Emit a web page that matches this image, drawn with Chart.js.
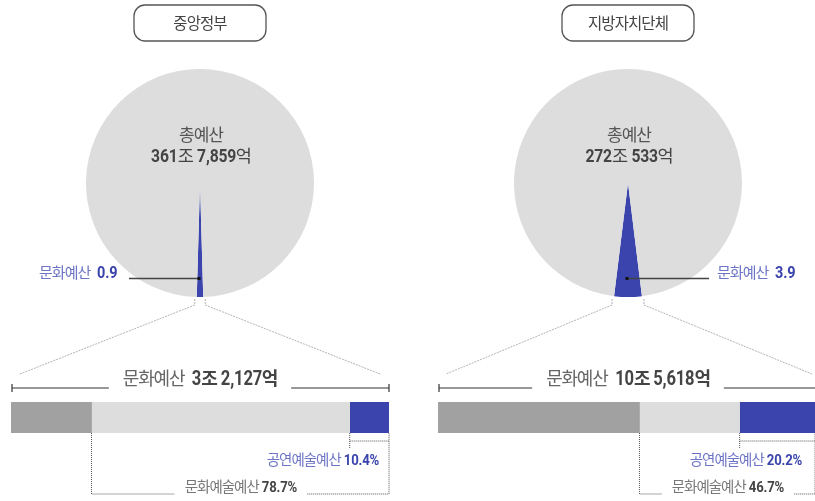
<!DOCTYPE html>
<html lang="ko">
<head>
<meta charset="utf-8">
<title>중앙정부 / 지방자치단체 문화예산</title>
<script src="https://cdn.jsdelivr.net/npm/chart.js@4.4.1/dist/chart.umd.min.js"></script>
<style>
    html, body {
        margin: 0;
        padding: 0;
        background: #fff;
        overflow: hidden;
    }
    #stage {
        position: relative;
        width: 815px;
        height: 501px;
        overflow: hidden;
        font-family: "Noto Sans CJK KR", "Noto Sans", sans-serif;
    }
    #stage canvas {
        position: absolute;
    }
    #overlay {
        position: absolute;
        left: 0;
        top: 0;
        pointer-events: none;
    }
    .txt {
        position: absolute;
        white-space: nowrap;
        transform: translate(-50%, -50%);
        line-height: 1;
    }
    .num {
        font-family: "Roboto", "Noto Sans CJK KR", sans-serif;
        font-weight: bold;
        letter-spacing: -0.2px;
    }
    .unit {
        font-weight: normal;
        font-family: "Noto Sans CJK KR", sans-serif;
    }
</style>
</head>
<body>
<div id="stage">
    <canvas id="pieCentral" width="228" height="228" style="left:86px; top:69px;"></canvas>
    <canvas id="pieLocal" width="228" height="228" style="left:514px; top:69px;"></canvas>
    <canvas id="barCentral" width="378" height="31" style="left:11px; top:402px;"></canvas>
    <canvas id="barLocal" width="378" height="31" style="left:438px; top:402px;"></canvas>
    <svg id="overlay" width="815" height="501"></svg>
</div>

<script>
/* ===== DATA ===== */
const groupNames = ['중앙정부', '지방자치단체'];
const totalBudgetNums = [['361', '7,859'], ['272', '533']];   // 조, 억
const cultureSharePct = [0.9, 3.9];                            // 총예산 중 문화예산 비중
const cultureBudgetNums = [['3', '2,127'], ['10', '5,618']];   // 조, 억
const cultureArtsPct = [78.7, 46.7];                           // 문화예산 중 문화예술예산
const performingArtsPct = [10.4, 20.2];                        // 문화예산 중 공연예술예산

/* ===== COLORS ===== */
const BLUE = '#3a44ac';
const BLUE_TEXT = '#6d74c6';
const PIE_GRAY = '#dcdddc';
const DARK_GRAY = '#a0a1a0';
const LIGHT_GRAY = '#dcdddc';

const stage = document.getElementById('stage');
const svg = document.getElementById('overlay');

/* ===== HELPERS ===== */

// squeeze the bold numbers horizontally (the original uses a condensed face)
function condense(el, s) {
    el.querySelectorAll('.num').forEach(span => {
        span.style.display = 'inline-block';
        const w = span.getBoundingClientRect().width;
        span.style.transformOrigin = 'left center';
        span.style.transform = 'scaleX(' + s + ')';
        span.style.marginRight = (-w * (1 - s)) + 'px';
    });
}

function num(value, size, color) {
    return '<span class="num" style="font-size:' + size + 'px;' + (color ? 'color:' + color + ';' : '') + '">' + value + '</span>';
}

function addText(x, y, html, style) {
    const el = document.createElement('div');
    el.className = 'txt';
    el.style.left = x + 'px';
    el.style.top = y + 'px';
    el.style.cssText += style || '';
    el.innerHTML = html;
    stage.appendChild(el);
    condense(el, 0.85);
    return el;
}

function addPath(points, stroke, width, dash) {
    const p = document.createElementNS('http://www.w3.org/2000/svg', 'polyline');
    p.setAttribute('points', points.map(pt => pt.join(',')).join(' '));
    p.setAttribute('fill', 'none');
    p.setAttribute('stroke', stroke);
    p.setAttribute('stroke-width', width);
    if (dash) p.setAttribute('stroke-dasharray', dash);
    svg.appendChild(p);
}

function addRect(x, y, w, h, attrs) {
    const r = document.createElementNS('http://www.w3.org/2000/svg', 'rect');
    r.setAttribute('x', x);
    r.setAttribute('y', y);
    r.setAttribute('width', w);
    r.setAttribute('height', h);
    Object.keys(attrs).forEach(k => r.setAttribute(k, attrs[k]));
    svg.appendChild(r);
}

/* ===== CHARTS ===== */

function makePie(canvasId, share) {
    const ctx = document.getElementById(canvasId).getContext('2d');
    return new Chart(ctx, {
        type: 'pie',
        data: {
            labels: ['문화예산', '기타'],
            datasets: [{
                data: [share, 100 - share],
                backgroundColor: [BLUE, PIE_GRAY],
                borderWidth: 0
            }]
        },
        options: {
            responsive: false,
            animation: false,
            // center the culture slice at the bottom of the pie
            rotation: 180 - share * 3.6 / 2,
            plugins: {
                legend: { display: false },
                tooltip: { enabled: false }
            },
            layout: { padding: 0 }
        }
    });
}

function makeBar(canvasId, idx) {
    const ctx = document.getElementById(canvasId).getContext('2d');
    const others = +(100 - cultureArtsPct[idx]).toFixed(1);
    const artsOnly = +(cultureArtsPct[idx] - performingArtsPct[idx]).toFixed(1);
    const segs = [
        { label: '기타', value: others, color: DARK_GRAY },
        { label: '문화예술예산(공연 제외)', value: artsOnly, color: LIGHT_GRAY },
        { label: '공연예술예산', value: performingArtsPct[idx], color: BLUE }
    ];
    return new Chart(ctx, {
        type: 'bar',
        data: {
            labels: [groupNames[idx]],
            datasets: segs.map(s => ({
                label: s.label,
                data: [s.value],
                backgroundColor: s.color,
                borderWidth: 0,
                barPercentage: 1,
                categoryPercentage: 1
            }))
        },
        options: {
            indexAxis: 'y',
            responsive: false,
            animation: false,
            layout: { padding: 0 },
            plugins: {
                legend: { display: false },
                tooltip: { enabled: false }
            },
            scales: {
                x: { stacked: true, min: 0, max: 100, display: false },
                y: { stacked: true, display: false }
            }
        }
    });
}

/* ===== ANNOTATIONS ===== */

function drawGroup(idx, pieChart, barChart, cfg) {
    const pieCanvas = pieChart.canvas;
    const px = pieCanvas.offsetLeft, py = pieCanvas.offsetTop;
    const arc = pieChart.getDatasetMeta(0).data[0];
    const cx = px + arc.x, cy = py + arc.y, r = arc.outerRadius;

    // title box
    addRect(cx - 66, 5, 132, 36, { rx: 11, ry: 11, fill: '#fff', stroke: '#555', 'stroke-width': 1.3 });
    addText(cx, 23, groupNames[idx], 'font-size:15.5px; color:#444; letter-spacing:-0.9px;');

    // pie center text
    const t = totalBudgetNums[idx];
    addText(cx + 1, 133, '총예산', 'font-size:17px; color:#555; letter-spacing:-1px;');
    addText(cx + 1, 156,
        num(t[0], 18.5) + '<span class="unit">조</span> ' + num(t[1], 18.5) + '<span class="unit">억</span>',
        'font-size:17.5px; color:#444; letter-spacing:-1px;');

    // leader line to culture slice
    const dotX = cx - 1, dotY = 278.5;
    addPath([[cfg.leaderEnd, dotY], [dotX, dotY]], '#444', 1.5);
    addRect(dotX - 1.5, dotY - 1.5, 3, 3, { fill: '#111' });
    addText(cfg.labelX, 272,
        '<span style="color:' + BLUE_TEXT + '">문화예산</span>&nbsp;&nbsp;' + num(cultureSharePct[idx], 17, BLUE),
        'font-size:15px; letter-spacing:-1px;');

    // zoom connectors from slice to bar
    const half = (cultureSharePct[idx] * 3.6 / 2) * Math.PI / 180;
    const bottom = cy + r;
    const lx = cx - Math.sin(half) * r - 2, rx = cx + Math.sin(half) * r + 2;
    addPath([[lx, bottom + 2], [lx, bottom + 8], [cfg.zoomLeft, 374]], '#aaa', 0.9, '2,1');
    addPath([[rx, bottom + 2], [rx, bottom + 8], [cfg.zoomRight, 374]], '#aaa', 0.9, '2,1');

    // bar geometry from the chart scale
    const bx = barChart.canvas.offsetLeft, by = barChart.canvas.offsetTop;
    const xs = barChart.scales.x;
    const barLeft = bx + xs.getPixelForValue(0);
    const barRight = Math.min(bx + xs.getPixelForValue(100), 815);
    const artsStart = bx + xs.getPixelForValue(100 - cultureArtsPct[idx]);
    const perfStart = bx + xs.getPixelForValue(100 - performingArtsPct[idx]);
    const barBottom = by + barChart.chartArea.bottom;

    // culture budget caption with bracket
    const c = cultureBudgetNums[idx];
    const capEl = addText(cx, 378,
        '<span style="color:#666">문화예산</span>&nbsp;&nbsp;' +
        num(c[0], 19.5) + '<span style="font-weight:bold">조</span> ' +
        num(c[1], 19.5) + '<span style="font-weight:bold">억</span>',
        'font-size:18px; color:#444; letter-spacing:-1.2px;');
    const capW = capEl.getBoundingClientRect().width;
    const gap = 14;
    addPath([[barLeft + 1, 388], [cx - capW / 2 - gap, 388]], '#333', 1.2);
    addPath([[cx + capW / 2 + gap, 388], [barRight, 388]], '#333', 1.2);
    addPath([[barLeft + 1, 384], [barLeft + 1, 392]], '#333', 1.2);
    if (barRight < 814) addPath([[barRight, 384], [barRight, 392]], '#333', 1.2);

    // performing arts bracket
    const dot = '1,1';
    addPath([[perfStart, barBottom], [perfStart, barBottom + 16]], '#555', 1, dot);
    addPath([[perfStart, barBottom + 8], [barRight, barBottom + 8]], '#555', 1, dot);
    addText(cfg.perfX, 460,
        '<span style="color:' + BLUE_TEXT + '">공연예술예산</span>&nbsp;' + num(performingArtsPct[idx] + '%', 15.5, BLUE),
        'font-size:14.5px; letter-spacing:-1px;');

    // culture arts bracket
    const artsLabel = addText(cfg.artsX, 487,
        '<span style="color:#777">문화예술예산</span>&nbsp;' + num(cultureArtsPct[idx] + '%', 15.5, '#444'),
        'font-size:14.5px; letter-spacing:-1px;');
    const aw = artsLabel.getBoundingClientRect().width;
    addPath([[artsStart, barBottom], [artsStart, 494], [cfg.artsX - aw / 2 - 10, 494]], '#555', 1, dot);
    addPath([[cfg.artsX + aw / 2 + 10, 494], [barRight, 494], [barRight, barBottom]], '#555', 1, dot);
}

/* ===== INITIALIZATION ===== */

const pieCentral = makePie('pieCentral', cultureSharePct[0]);
const pieLocal = makePie('pieLocal', cultureSharePct[1]);
const barCentral = makeBar('barCentral', 0);
const barLocal = makeBar('barLocal', 1);

drawGroup(0, pieCentral, barCentral, {
    leaderEnd: 129, labelX: 78, zoomLeft: 20, zoomRight: 380, perfX: 323, artsX: 241
});
drawGroup(1, pieLocal, barLocal, {
    leaderEnd: 709, labelX: 756, zoomLeft: 446, zoomRight: 812, perfX: 746, artsX: 728
});
</script>
</body>
</html>
